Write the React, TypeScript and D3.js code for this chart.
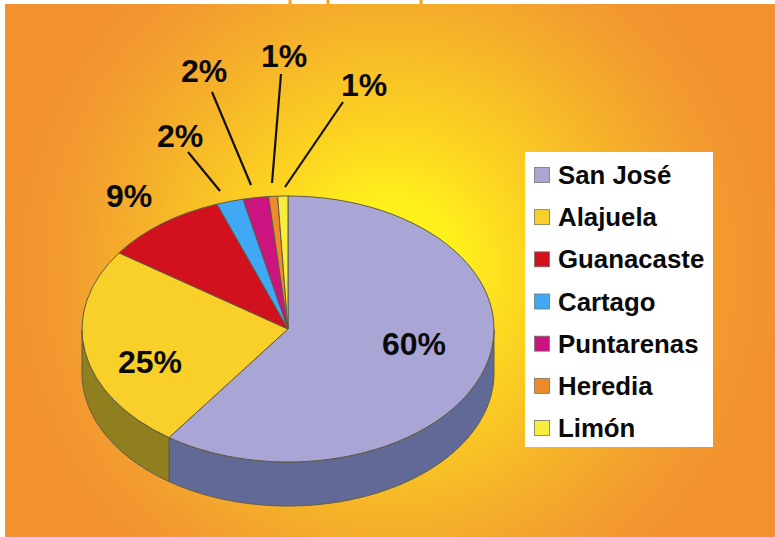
// App.tsx - 3D looking pie of Costa Rican provinces
import React from 'react';
import * as d3 from 'd3';

const provinces = ['San José', 'Alajuela', 'Guanacaste', 'Cartago', 'Puntarenas', 'Heredia', 'Limón'];
const shares = [59.8, 24.9, 9.7, 2.1, 2.0, 0.7, 0.8];
const shareLabels = ['60%', '25%', '9%', '2%', '2%', '1%', '1%'];
const topColors = ['#a9a6d6', '#f9d02a', '#d2111f', '#3fa9f5', '#cc1480', '#ee8a2a', '#f8ec3c'];
const sideColors = ['#616a96', '#8f7f1e', '#7a0a12', '#256590', '#7a0c4c', '#8e5219', '#948d24'];

// label placement
const labelSpots: [number, number][] = [[414, 344], [150, 362], [129, 196], [180, 136], [204, 71], [284, 56], [364, 85]];
const leaders: ([number, number, number, number] | null)[] = [
  null,
  null,
  null,
  [188, 152, 220, 191],
  [212, 92, 251, 185],
  [281, 74, 272, 183],
  [343, 102, 285, 187],
];

const width = 775;
const height = 537;
const cx = 288;
const cy = 329;
const rx = 206;
const ry = 133;
const depth = 44;
const edge = '#5f5a45';

export default function App() {
  const slices = d3.pie<number>().sort(null)(shares);
  const arc = d3.arc<d3.PieArcDatum<number>>().innerRadius(0).outerRadius(rx);

  // the wall under the front half of the ellipse
  const wall = (start: number, end: number) => {
    const from = Math.max(start, Math.PI / 2);
    const to = Math.min(end, (3 * Math.PI) / 2);
    if (from >= to) return null;
    const area = d3.area<number>()
      .x(a => rx * Math.sin(a))
      .y0(a => -ry * Math.cos(a))
      .y1(a => -ry * Math.cos(a) + depth);
    return area(d3.range(from, to, 0.01).concat(to));
  };

  const legendY = d3.scalePoint<string>().domain(provinces).range([175, 428]);

  return (
    <svg width={width} height={height} style={{ position: 'absolute', left: 0, top: 0 }}>
      <defs>
        <radialGradient id="bg" gradientUnits="userSpaceOnUse" cx={390} cy={270} r={390}>
          <stop offset="0" stopColor="#fffb1a" />
          <stop offset="0.18" stopColor="#fff01c" />
          <stop offset="0.33" stopColor="#fdd820" />
          <stop offset="0.65" stopColor="#f5b02a" />
          <stop offset="0.85" stopColor="#f29a30" />
          <stop offset="1" stopColor="#f2922f" />
        </radialGradient>
      </defs>
      <rect x={0} y={0} width={width} height={height} fill="#fff" />
      {[290, 328, 421].map(x => (
        <rect key={x} x={x - 1.5} y={0} width={3} height={5} fill="#f9a21a" />
      ))}
      <rect x={5} y={4} width={770} height={533} fill="url(#bg)" />

      <g transform={`translate(${cx},${cy})`}>
        {slices.map((s, i) => {
          const d = wall(s.startAngle, s.endAngle);
          return d ? <path key={i} d={d} fill={sideColors[i]} stroke={edge} strokeWidth={1} /> : null;
        })}
        <g transform={`scale(1,${ry / rx})`}>
          {slices.map((s, i) => (
            <path key={i} d={arc(s) as string} fill={topColors[i]} stroke={edge} strokeWidth={1}
              vectorEffect="non-scaling-stroke" />
          ))}
        </g>
      </g>

      {leaders.map((l, i) => l && (
        <line key={i} x1={l[0]} y1={l[1]} x2={l[2]} y2={l[3]} stroke="#111" strokeWidth={2.2} />
      ))}
      {shareLabels.map((t, i) => (
        <text key={i} x={labelSpots[i][0]} y={labelSpots[i][1]} textAnchor="middle" dominantBaseline="central"
          fontFamily="Liberation Sans" fontWeight="bold" fontSize={32} fill="#0a0a0a">{t}</text>
      ))}

      <rect x={525} y={152} width={188} height={295} fill="#fff" />
      {provinces.map((p, i) => (
        <g key={p}>
          <rect x={534.5} y={(legendY(p) as number) - 7.5} width={15} height={15} fill={topColors[i]}
            stroke="#77756a" strokeWidth={0.8} />
          <text x={558} y={legendY(p)} dominantBaseline="central" fontFamily="Liberation Sans" fontWeight="bold"
            fontSize={25.8} fill="#0a0a0a">{p}</text>
        </g>
      ))}
    </svg>
  );
}
